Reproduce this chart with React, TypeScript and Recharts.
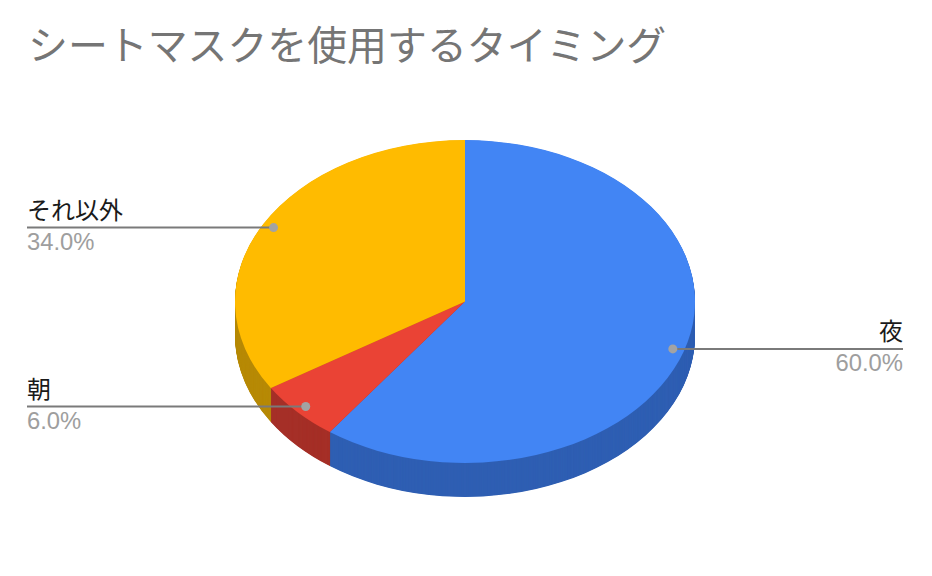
import { PieChart, Pie, Cell } from 'recharts'

const categories = ['夜', '朝', 'それ以外']
const shares = [60.0, 6.0, 34.0]
const topColors = ['#4285f4', '#ea4335', '#ffbb00']
const sideColors = ['#2f5fb3', '#a52f27', '#b78a07']

const rows = categories.map((name, i) => ({ name, value: shares[i] }))

const WIDTH = 932
const HEIGHT = 576
const CX = 465
const CY = 301.5
const RX = 230
const SQUASH = 0.702
const DEPTH = 34

// recharts only draws round pies, so the whole chart gets squashed with css
// and the wall is just the same pie repeated downwards, darker
const depthLayers: number[] = []
for (let d = DEPTH; d >= 0.5; d -= 0.5) depthLayers.push(d)

const CJK = '"Noto Sans CJK JP", sans-serif'

function LeaderLabel(props: any) {
  const { cx, cy, midAngle, outerRadius, name, value } = props
  const rad = (midAngle * Math.PI) / 180
  const px = cx + outerRadius * 0.95 * Math.cos(rad)
  const py = cy - outerRadius * 0.95 * Math.sin(rad) * SQUASH
  const onRight = px > cx
  const edge = onRight ? 903 : 27
  const anchor = onRight ? 'end' : 'start'
  return (
    <g>
      <line x1={px} y1={py} x2={edge} y2={py} stroke="#7a7a7a" strokeWidth={2} />
      <circle cx={px} cy={py} r={4.5} fill="#a3a3a3" />
      <text x={edge} y={py - 9} textAnchor={anchor} fontSize={24} fill="#1a1a1a" fontFamily={CJK}>
        {name}
      </text>
      <text x={edge} y={py + 22} textAnchor={anchor} fontSize={23.8} fill="#9e9e9e" fontFamily='"Liberation Sans", sans-serif'>
        {value.toFixed(1)}%
      </text>
    </g>
  )
}

export default function App() {
  return (
    <div style={{ position: 'absolute', left: 0, top: 0, width: WIDTH, height: HEIGHT, background: '#fff', overflow: 'hidden' }}>
      <div
        style={{
          position: 'absolute',
          left: 28,
          top: 16,
          fontFamily: CJK,
          fontSize: 39.9,
          lineHeight: '54px',
          color: '#757575',
          whiteSpace: 'nowrap',
        }}
      >
        シートマスクを使用するタイミング
      </div>

      <div style={{ position: 'absolute', left: 0, top: 0, transform: `scaleY(${SQUASH})`, transformOrigin: '0 0' }}>
        <PieChart width={WIDTH} height={HEIGHT / SQUASH} margin={{ top: 0, right: 0, bottom: 0, left: 0 }}>
          {depthLayers.map((d) => (
            <Pie
              key={d}
              data={rows}
              dataKey="value"
              nameKey="name"
              cx={CX}
              cy={(CY + d) / SQUASH}
              outerRadius={RX}
              startAngle={90}
              endAngle={-270}
              stroke="none"
              isAnimationActive={false}
            >
              {rows.map((r, i) => (
                <Cell key={r.name} fill={sideColors[i]} />
              ))}
            </Pie>
          ))}
          <Pie
            data={rows}
            dataKey="value"
            nameKey="name"
            cx={CX}
            cy={CY / SQUASH}
            outerRadius={RX}
            startAngle={90}
            endAngle={-270}
            stroke="none"
            isAnimationActive={false}
          >
            {rows.map((r, i) => (
              <Cell key={r.name} fill={topColors[i]} />
            ))}
          </Pie>
        </PieChart>
      </div>

      <div style={{ position: 'absolute', left: 0, top: 0 }}>
        <PieChart width={WIDTH} height={HEIGHT} margin={{ top: 0, right: 0, bottom: 0, left: 0 }}>
          <Pie
            data={rows}
            dataKey="value"
            nameKey="name"
            cx={CX}
            cy={CY}
            outerRadius={RX}
            startAngle={90}
            endAngle={-270}
            fill="none"
            stroke="none"
            label={LeaderLabel}
            labelLine={false}
            isAnimationActive={false}
          />
        </PieChart>
      </div>
    </div>
  )
}
